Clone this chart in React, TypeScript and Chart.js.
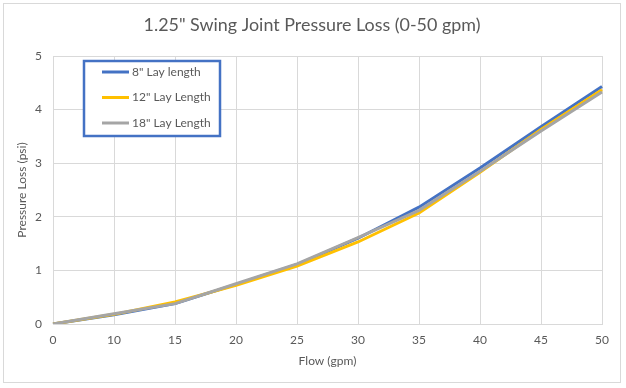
import React, { useEffect, useRef } from "react";
import { Chart, registerables } from "chart.js";

Chart.register(...registerables);

const categories = ["0", "10", "15", "20", "25", "30", "35", "40", "45", "50"];
const lay8 = [0, 0.17, 0.38, 0.74, 1.11, 1.6, 2.18, 2.91, 3.68, 4.43];
const lay12 = [0, 0.18, 0.41, 0.72, 1.08, 1.53, 2.07, 2.83, 3.63, 4.37];
const lay18 = [0, 0.19, 0.38, 0.75, 1.12, 1.61, 2.12, 2.85, 3.6, 4.33];
const seriesNames = ['8" Lay length', '12" Lay Length', '18" Lay Length'];
const seriesColors = ["#4472C4", "#FFC000", "#A5A5A5"];
const chartTitle = '1.25" Swing Joint Pressure Loss (0-50 gpm)';

const FONT = "Lato, 'Open Sans', sans-serif";
const TEXT = "#595959";
const GRID = "#d9d9d9";

const framePlugin = {
  id: "frame",
  beforeDraw(chart: any) {
    const ctx = chart.ctx;
    ctx.save();
    ctx.fillStyle = "#ffffff";
    ctx.fillRect(0, 0, chart.width, chart.height);
    ctx.strokeStyle = GRID;
    ctx.lineWidth = 1;
    ctx.strokeRect(3.5, 3.5, 617, 379);
    ctx.fillStyle = TEXT;
    ctx.font = `17.9px ${FONT}`;
    ctx.textAlign = "center";
    ctx.textBaseline = "middle";
    ctx.fillText(chartTitle, 312, 25);
    ctx.restore();
  },
};

const legendBoxPlugin = {
  id: "legendBox",
  afterDraw(chart: any) {
    const ctx = chart.ctx;
    const area = chart.chartArea;
    const x0 = area.left + 31;
    const y0 = area.top + 5;
    const w = 136;
    const h = 75;
    ctx.save();
    ctx.fillStyle = "#ffffff";
    ctx.fillRect(x0, y0, w, h);
    ctx.strokeStyle = "#4472C4";
    ctx.lineWidth = 2.5;
    ctx.strokeRect(x0, y0, w, h);
    ctx.font = `12px ${FONT}`;
    ctx.textBaseline = "middle";
    ctx.textAlign = "left";
    chart.data.datasets.forEach((ds: any, i: number) => {
      const y = y0 + 11 + i * 25.5;
      ctx.strokeStyle = ds.borderColor;
      ctx.lineWidth = 3;
      ctx.beginPath();
      ctx.moveTo(x0 + 18, y);
      ctx.lineTo(x0 + 45, y);
      ctx.stroke();
      ctx.fillStyle = TEXT;
      ctx.fillText(ds.label, x0 + 48, y);
    });
    ctx.restore();
  },
};

export default function App() {
  const ref = useRef<HTMLCanvasElement | null>(null);
  useEffect(() => {
    if (!ref.current) return;
    const values = [lay8, lay12, lay18];
    const chart = new Chart(ref.current, {
      type: "line",
      data: {
        labels: categories,
        datasets: values.map((v, i) => ({
          label: seriesNames[i],
          data: v,
          borderColor: seriesColors[i],
          backgroundColor: seriesColors[i],
          borderWidth: 3,
          pointRadius: 0,
          tension: 0,
          fill: false,
          order: values.length - 1 - i,
        })),
      },
      options: {
        responsive: false,
        animation: false,
        layout: { padding: { left: 0, right: 24, top: 56, bottom: 0 } },
        plugins: {
          legend: { display: false },
          tooltip: { enabled: false },
          title: { display: false },
        },
        scales: {
          x: {
            type: "category",
            offset: false,
            grid: { color: GRID, drawTicks: false, lineWidth: 1 },
            border: { display: true, color: GRID },
            ticks: { color: TEXT, font: { family: FONT, size: 12 }, padding: 9, maxRotation: 0, autoSkip: false },
            title: {
              display: true,
              text: "Flow (gpm)",
              color: TEXT,
              font: { family: FONT, size: 12, lineHeight: 1.2 },
              padding: { top: 0, bottom: 20 },
            },
            afterFit(scale: any) {
              scale.height = 64;
            },
          },
          y: {
            min: 0,
            max: 5,
            grid: { color: GRID, drawTicks: false, lineWidth: 1 },
            border: { display: true, color: GRID },
            ticks: { stepSize: 1, color: TEXT, font: { family: FONT, size: 12 }, padding: 11 },
            title: {
              display: true,
              text: "Pressure Loss (psi)",
              color: TEXT,
              font: { family: FONT, size: 12, lineHeight: 1.2 },
              padding: { top: 15, bottom: 0 },
            },
            afterFit(scale: any) {
              scale.width = 53;
            },
          },
        },
      },
      plugins: [framePlugin, legendBoxPlugin],
    });
    return () => chart.destroy();
  }, []);
  return (
    <div style={{ position: "absolute", left: 0, top: 0, width: 626, height: 388 }}>
      <canvas ref={ref} width={626} height={388} />
    </div>
  );
}
